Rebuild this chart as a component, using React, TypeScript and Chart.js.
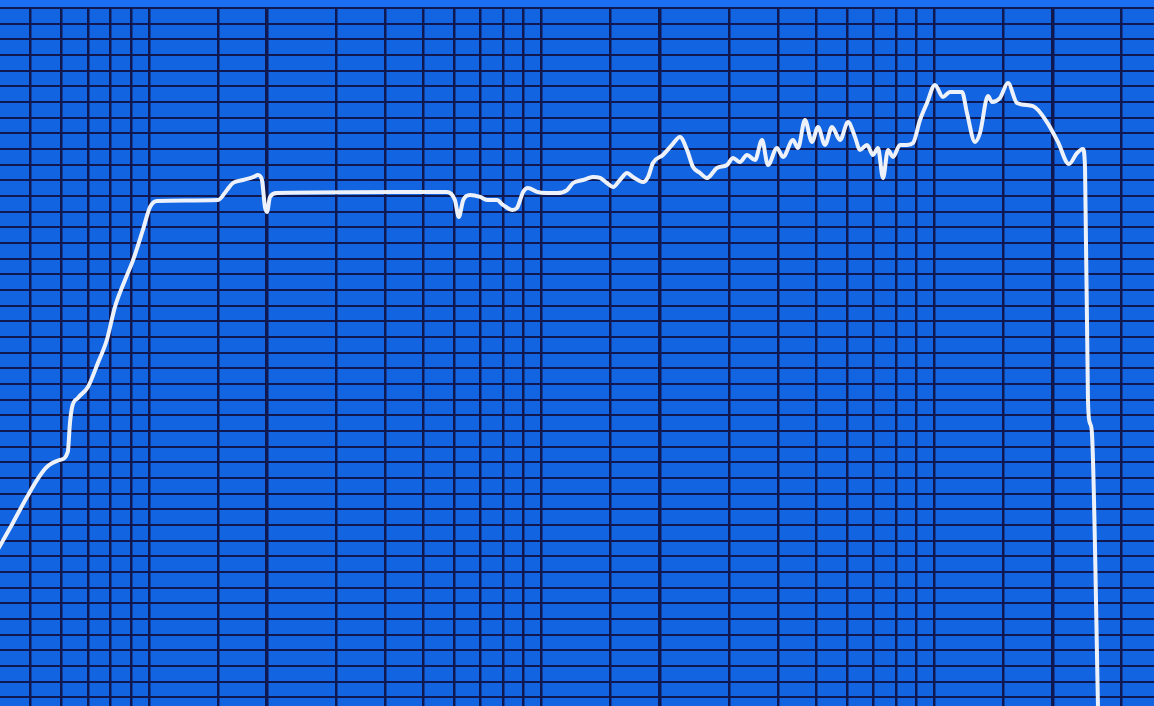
import React, { useEffect, useRef } from "react";
import { Chart, registerables } from "chart.js";

Chart.register(...registerables);

// Frequency (Hz) of each traced point of the response curve
const frequencies: number[] = [
  20.5, 22.5, 24.5, 26.0, 27.5, 29.7, 31.1, 31.5, 31.9, 33.0,
  35.0, 37.1, 39.1, 41.0, 43.5, 45.6, 48.3, 50.4, 52.5, 75.0,
  79.1, 81.9, 86.9, 92.1, 94.9, 97.1, 98.8, 100, 101.8, 106,
  218, 287, 301, 308, 316, 329, 349, 365, 385, 399,
  421, 433, 449, 462, 487, 516, 548, 581, 602, 638,
  676, 705, 734, 761, 792, 826, 855, 907, 934, 961,
  1019, 1075, 1126, 1174, 1216, 1267, 1320, 1399, 1484, 1537,
  1601, 1669, 1749, 1822, 1887, 1989, 2061, 2185, 2250, 2344,
  2442, 2530, 2636, 2747, 2879, 3017, 3143, 3236, 3373, 3493,
  3597, 3704, 3814, 3928, 4092, 4264, 4416, 4601, 4794, 5023,
  5264, 5485, 5886, 6061, 6352, 6541, 6855, 7018, 7354, 7707,
  8126, 8924, 9687, 10330, 11020, 11550, 11960, 12110, 12320, 12460,
  12610, 13100,
];

// Level (dB) of each traced point
const levels: number[] = [
  15.3, 17.1, 18.8, 19.9, 20.7, 21.15, 21.66, 23.51, 24.53, 25.11,
  25.81, 27.34, 28.81, 30.91, 32.64, 33.91, 35.83, 37.3, 37.68, 37.74,
  38.38, 38.83, 39.02, 39.21, 39.34, 39.02, 37.3, 36.98, 37.94, 38.19,
  38.26, 38.26, 37.74, 36.66, 37.74, 38.06, 37.94, 37.74, 37.74, 37.43,
  37.11, 37.23, 38.26, 38.51, 38.26, 38.19, 38.19, 38.38, 38.83, 39.02,
  39.21, 39.15, 38.83, 38.57, 39.02, 39.47, 39.21, 38.89, 39.21, 40.11,
  40.62, 41.26, 41.77, 40.94, 39.85, 39.47, 39.15, 39.79, 39.98, 40.43,
  40.17, 40.62, 40.3, 41.57, 39.98, 41.06, 40.49, 41.57, 41.06, 42.85,
  41.45, 42.4, 41.26, 42.4, 41.57, 42.72, 41.77, 40.94, 41.26, 40.62,
  41.06, 39.15, 40.94, 40.49, 41.26, 41.26, 41.38, 42.85, 43.94, 45.09,
  44.32, 44.64, 44.64, 43.3, 41.45, 42.02, 44.38, 44.0, 44.26, 45.21,
  43.94, 43.74, 42.72, 41.45, 40.04, 40.74, 41.0, 39.79, 24.98, 23.51,
  22.87, 4.0,
];

// Vertical grid lines of the log chart paper (Hz)
const freqGrid: number[] = [
  25, 30, 35, 40, 45, 50, 75, 100, 150, 200, 250, 300, 350, 400, 450, 500,
  750, 1000, 1500, 2000, 2500, 3000, 3500, 4000, 4500, 5000, 7500, 10000, 15000,
];
// Heavier decade lines (Hz)
const decadeLines: number[] = [100, 1000, 10000];
// Horizontal grid lines (dB), one per dB
const levelGrid: number[] = Array.from({ length: 45 }, (_, i) => 6 + i);

const PAPER = "#1264e0";
const PAPER_EDGE = "#1a6ff2";
const INK = "#0f1850";

export default function App() {
  const canvasRef = useRef<HTMLCanvasElement | null>(null);

  useEffect(() => {
    const canvas = canvasRef.current;
    if (!canvas) return;
    const points = frequencies.map((f, i) => ({ x: f, y: levels[i] }));

    const paperPlugin = {
      id: "paper",
      beforeDraw(chart: any) {
        const { ctx, chartArea } = chart;
        ctx.save();
        ctx.fillStyle = PAPER;
        ctx.fillRect(chartArea.left, chartArea.top, chartArea.right - chartArea.left, chartArea.bottom - chartArea.top);
        ctx.restore();
      },
    };

    const chart = new Chart(canvas, {
      type: "line",
      data: {
        datasets: [
          {
            data: points,
            borderColor: "#edf2fa",
            borderWidth: 4,
            pointRadius: 0,
            cubicInterpolationMode: "monotone",
            fill: false,
          },
        ],
      },
      options: {
        animation: false,
        responsive: true,
        maintainAspectRatio: false,
        layout: { padding: { top: 8, left: 0, right: 0, bottom: 0 } },
        plugins: { legend: { display: false }, tooltip: { enabled: false } },
        scales: {
          x: {
            type: "logarithmic",
            min: 20.9,
            max: 18145,
            border: { display: false },
            ticks: { display: false },
            afterBuildTicks: (scale: any) => {
              scale.ticks = freqGrid.map((v) => ({ value: v }));
            },
            grid: {
              drawTicks: false,
              color: INK,
              lineWidth: (ctx: any) =>
                ctx.tick && decadeLines.includes(ctx.tick.value) ? 3.5 : 2.5,
            },
          },
          y: {
            type: "linear",
            min: 5.445,
            max: 50,
            border: { display: false },
            ticks: { display: false },
            afterBuildTicks: (scale: any) => {
              scale.ticks = levelGrid.map((v) => ({ value: v }));
            },
            grid: { drawTicks: false, color: INK, lineWidth: 2 },
          },
        },
      },
      plugins: [paperPlugin],
    } as any);

    return () => chart.destroy();
  }, []);

  return (
    <div style={{ position: "fixed", left: 0, top: 0, width: "100vw", height: "100vh", background: PAPER_EDGE }}>
      <canvas ref={canvasRef} />
    </div>
  );
}
